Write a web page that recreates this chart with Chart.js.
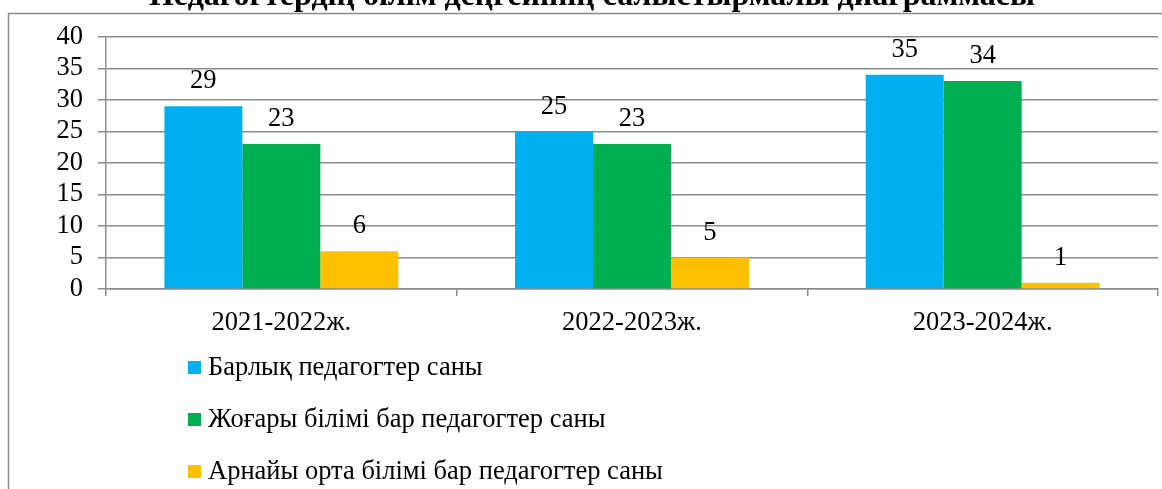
<!DOCTYPE html>
<html>
<head>
<meta charset="utf-8">
<script src="https://cdn.jsdelivr.net/npm/chart.js@4"></script>
<style>
  html, body { margin: 0; padding: 0; background: #fff; overflow: hidden; }
  canvas { display: block; }
</style>
</head>
<body>
<canvas id="bar-chart" width="1162" height="489"></canvas>
<script>
// chart data
const years = ["2021-2022ж.", "2022-2023ж.", "2023-2024ж."];
const seriesNames = [
  "Барлық педагогтер саны",
  "Жоғары білімі бар педагогтер саны",
  "Арнайы орта білімі бар педагогтер саны"
];
const allTeachers = [29, 25, 34];
const higherEdu = [23, 23, 33];
const specialEdu = [6, 5, 1];
// numbers printed above the bars (as written in the source)
const allTeachersText = ["29", "25", "35"];
const higherEduText = ["23", "23", "34"];
const specialEduText = ["6", "5", "1"];

const titleText = "Педагогтердің білім деңгейінің салыстырмалы диаграммасы";
const serif = "'Liberation Serif', 'DejaVu Serif', serif";
const fontSize = 26.5;
const gridColor = '#8c8c8c';

// frame + cut off title
const framePlugin = {
  id: 'frame',
  beforeDraw(chart) {
    const ctx = chart.ctx;
    ctx.save();
    ctx.strokeStyle = '#8a8a8a';
    ctx.lineWidth = 1.5;
    ctx.beginPath();
    ctx.moveTo(8.5, 500);
    ctx.lineTo(8.5, 13.5);
    ctx.lineTo(1170, 13.5);
    ctx.stroke();
    ctx.fillStyle = '#000';
    ctx.font = 'bold 32px ' + serif;
    ctx.textAlign = 'center';
    ctx.textBaseline = 'alphabetic';
    ctx.fillText(titleText, 592, 5);
    ctx.restore();
  }
};

// value labels above bars
const valueLabels = {
  id: 'valueLabels',
  afterDatasetsDraw(chart) {
    const ctx = chart.ctx;
    const texts = [allTeachersText, higherEduText, specialEduText];
    ctx.save();
    ctx.fillStyle = '#000';
    ctx.font = fontSize + 'px ' + serif;
    ctx.textAlign = 'center';
    ctx.textBaseline = 'alphabetic';
    chart.data.datasets.forEach((ds, i) => {
      chart.getDatasetMeta(i).data.forEach((bar, j) => {
        ctx.fillText(texts[i][j], bar.x, bar.y - 18);
      });
    });
    ctx.restore();
  }
};

// vertical legend under the axis
const sideLegend = {
  id: 'sideLegend',
  afterDraw(chart) {
    const ctx = chart.ctx;
    ctx.save();
    ctx.font = fontSize + 'px ' + serif;
    ctx.textBaseline = 'middle';
    ctx.textAlign = 'left';
    chart.data.datasets.forEach((ds, i) => {
      const y = 367 + i * 52;
      ctx.fillStyle = ds.backgroundColor;
      ctx.fillRect(188, y - 6, 13, 13);
      ctx.fillStyle = '#000';
      ctx.fillText(ds.label, 208, y + 1);
    });
    ctx.restore();
  }
};

function drawChart() {
  new Chart(document.getElementById('bar-chart'), {
    type: 'bar',
    data: {
      labels: years,
      datasets: [
        { label: seriesNames[0], data: allTeachers, backgroundColor: '#00B0F0' },
        { label: seriesNames[1], data: higherEdu, backgroundColor: '#00B050' },
        { label: seriesNames[2], data: specialEdu, backgroundColor: '#FFC000' }
      ]
    },
    options: {
      responsive: false,
      devicePixelRatio: 1,
      animation: false,
      categoryPercentage: 0.667,
      barPercentage: 1,
      layout: { padding: { top: 37, right: 4, bottom: 0, left: 0 } },
      plugins: {
        legend: { display: false },
        title: { display: false },
        tooltip: { enabled: false }
      },
      scales: {
        x: {
          afterFit(scale) { scale.height = 200; },
          grid: {
            drawOnChartArea: false,
            drawTicks: true,
            tickLength: 7,
            color: gridColor,
            lineWidth: 1.5
          },
          border: { color: gridColor, width: 1.5 },
          ticks: {
            color: '#000',
            font: { family: serif, size: fontSize },
            padding: 11
          }
        },
        y: {
          min: 0,
          max: 40,
          afterFit(scale) { scale.width = 106; },
          grid: {
            color: gridColor,
            lineWidth: 1.5,
            tickLength: 8
          },
          border: { color: gridColor, width: 1.5 },
          ticks: {
            stepSize: 5,
            autoSkip: false,
            color: '#000',
            font: { family: serif, size: fontSize },
            padding: 15
          }
        }
      }
    },
    plugins: [framePlugin, valueLabels, sideLegend]
  });
}

document.fonts.load(fontSize + "px 'Liberation Serif'").then(drawChart, drawChart);
</script>
</body>
</html>
